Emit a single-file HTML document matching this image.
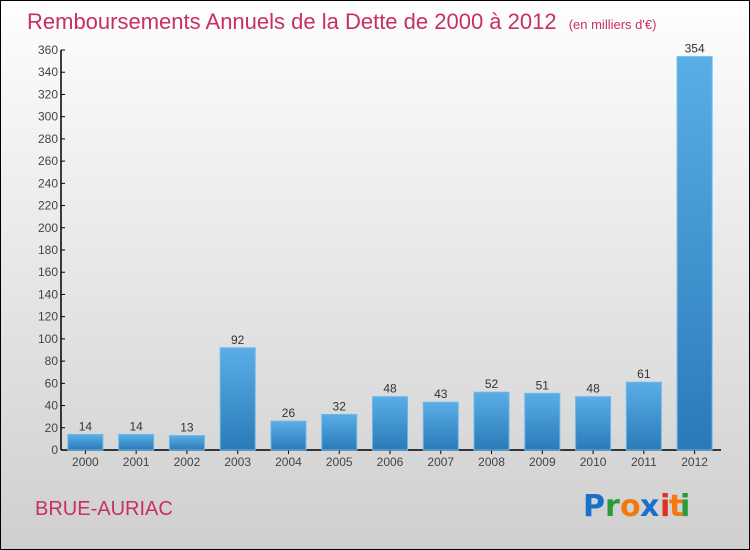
<!DOCTYPE html>
<html><head><meta charset="utf-8"><style>
body{margin:0;width:750px;height:550px;overflow:hidden}
svg{display:block;font-family:"Liberation Sans",sans-serif}
</style></head><body>
<svg width="750" height="550" viewBox="0 0 750 550">
<defs>
<linearGradient id="bg" x1="0" y1="0" x2="0" y2="1"><stop offset="0" stop-color="#fefefe"/><stop offset="1" stop-color="#cfcfcf"/></linearGradient>
<linearGradient id="bar" x1="0" y1="0" x2="0" y2="1"><stop offset="0" stop-color="#5aaee6"/><stop offset="1" stop-color="#2a7ab8"/></linearGradient>
</defs>
<rect x="0.5" y="0.5" width="749" height="549" fill="url(#bg)" stroke="#000"/>
<text x="27" y="29" font-size="22" fill="#c8305e">Remboursements Annuels de la Dette de 2000 à 2012 <tspan font-size="13" dx="6">(en milliers d'€)</tspan></text>
<text x="35" y="515" font-size="20" fill="#c8305e">BRUE-AURIAC</text>
<g font-size="30" font-weight="bold" font-family="'DejaVu Sans',sans-serif">
<text x="583" y="516" fill="#1a6fc8">P</text><text x="605" y="516" fill="#2a9a3a">r</text><text x="620" y="516" fill="#f07a10">o</text><text x="640" y="516" fill="#1a6fc8">x</text><text x="660" y="516" fill="#e03020">i</text><text x="669" y="516" fill="#f07a10">t</text><text x="680" y="516" fill="#2a9a3a">i</text>
</g>
<g id="axes"></g>
<g id="bars"></g>
</svg>
<script>
const categories=["2000","2001","2002","2003","2004","2005","2006","2007","2008","2009","2010","2011","2012"];
const values=[14,14,13,92,26,32,48,43,52,51,48,61,354];
const yTicks=[0,20,40,60,80,100,120,140,160,180,200,220,240,260,280,300,320,340,360];
const NS="http://www.w3.org/2000/svg";
const x0=61,x1=721,y0=450,y1=50,ymax=360;
const band=(x1-x0)/categories.length;
const yS=v=>y0-(v/ymax)*(y0-y1);
const xS=i=>x0+band*(i+0.5)-1;
function mk(t,a,p){const e=document.createElementNS(NS,t);for(const k in a)e.setAttribute(k,a[k]);p.appendChild(e);return e;}
const ax=document.getElementById('axes'),bg=document.getElementById('bars');
const yl=mk('line',{x1:x0,y1:y1,x2:x0,y2:y0,stroke:'#000','stroke-width':1.5},ax);


const xl=mk('line',{x1:x0,y1:y0,x2:x1,y2:y0,stroke:'#000','stroke-width':1.5},ax);


yTicks.forEach(v=>{
 const tk=mk('line',{x1:x0,y1:yS(v),x2:x0+4,y2:yS(v),stroke:'#000'},ax);
 
 
 const t=mk('text',{x:x0-3,y:yS(v)+4,'font-size':12,'text-anchor':'end',fill:'#444'},ax);
 t.textContent=v;
 
 
});
categories.forEach((c,i)=>{
 const cx=xS(i),w=35;
 const r=mk('rect',{x:cx-w/2,y:yS(values[i]),width:w,height:y0-yS(values[i]),fill:'url(#bar)',stroke:'#6bb8ec','stroke-width':1},bg);
 
 
 const l=mk('text',{x:cx,y:yS(values[i])-4,'font-size':12,'text-anchor':'middle',fill:'#333'},bg);
 l.textContent=values[i];
 
 
 const tk=mk('line',{x1:cx,y1:y0,x2:cx,y2:y0+4,stroke:'#000'},ax);
 
 
 const xt=mk('text',{x:cx,y:y0+16,'font-size':12,'text-anchor':'middle',fill:'#444'},ax);
 xt.textContent=c;
 
 
});
</script>
</body></html>
